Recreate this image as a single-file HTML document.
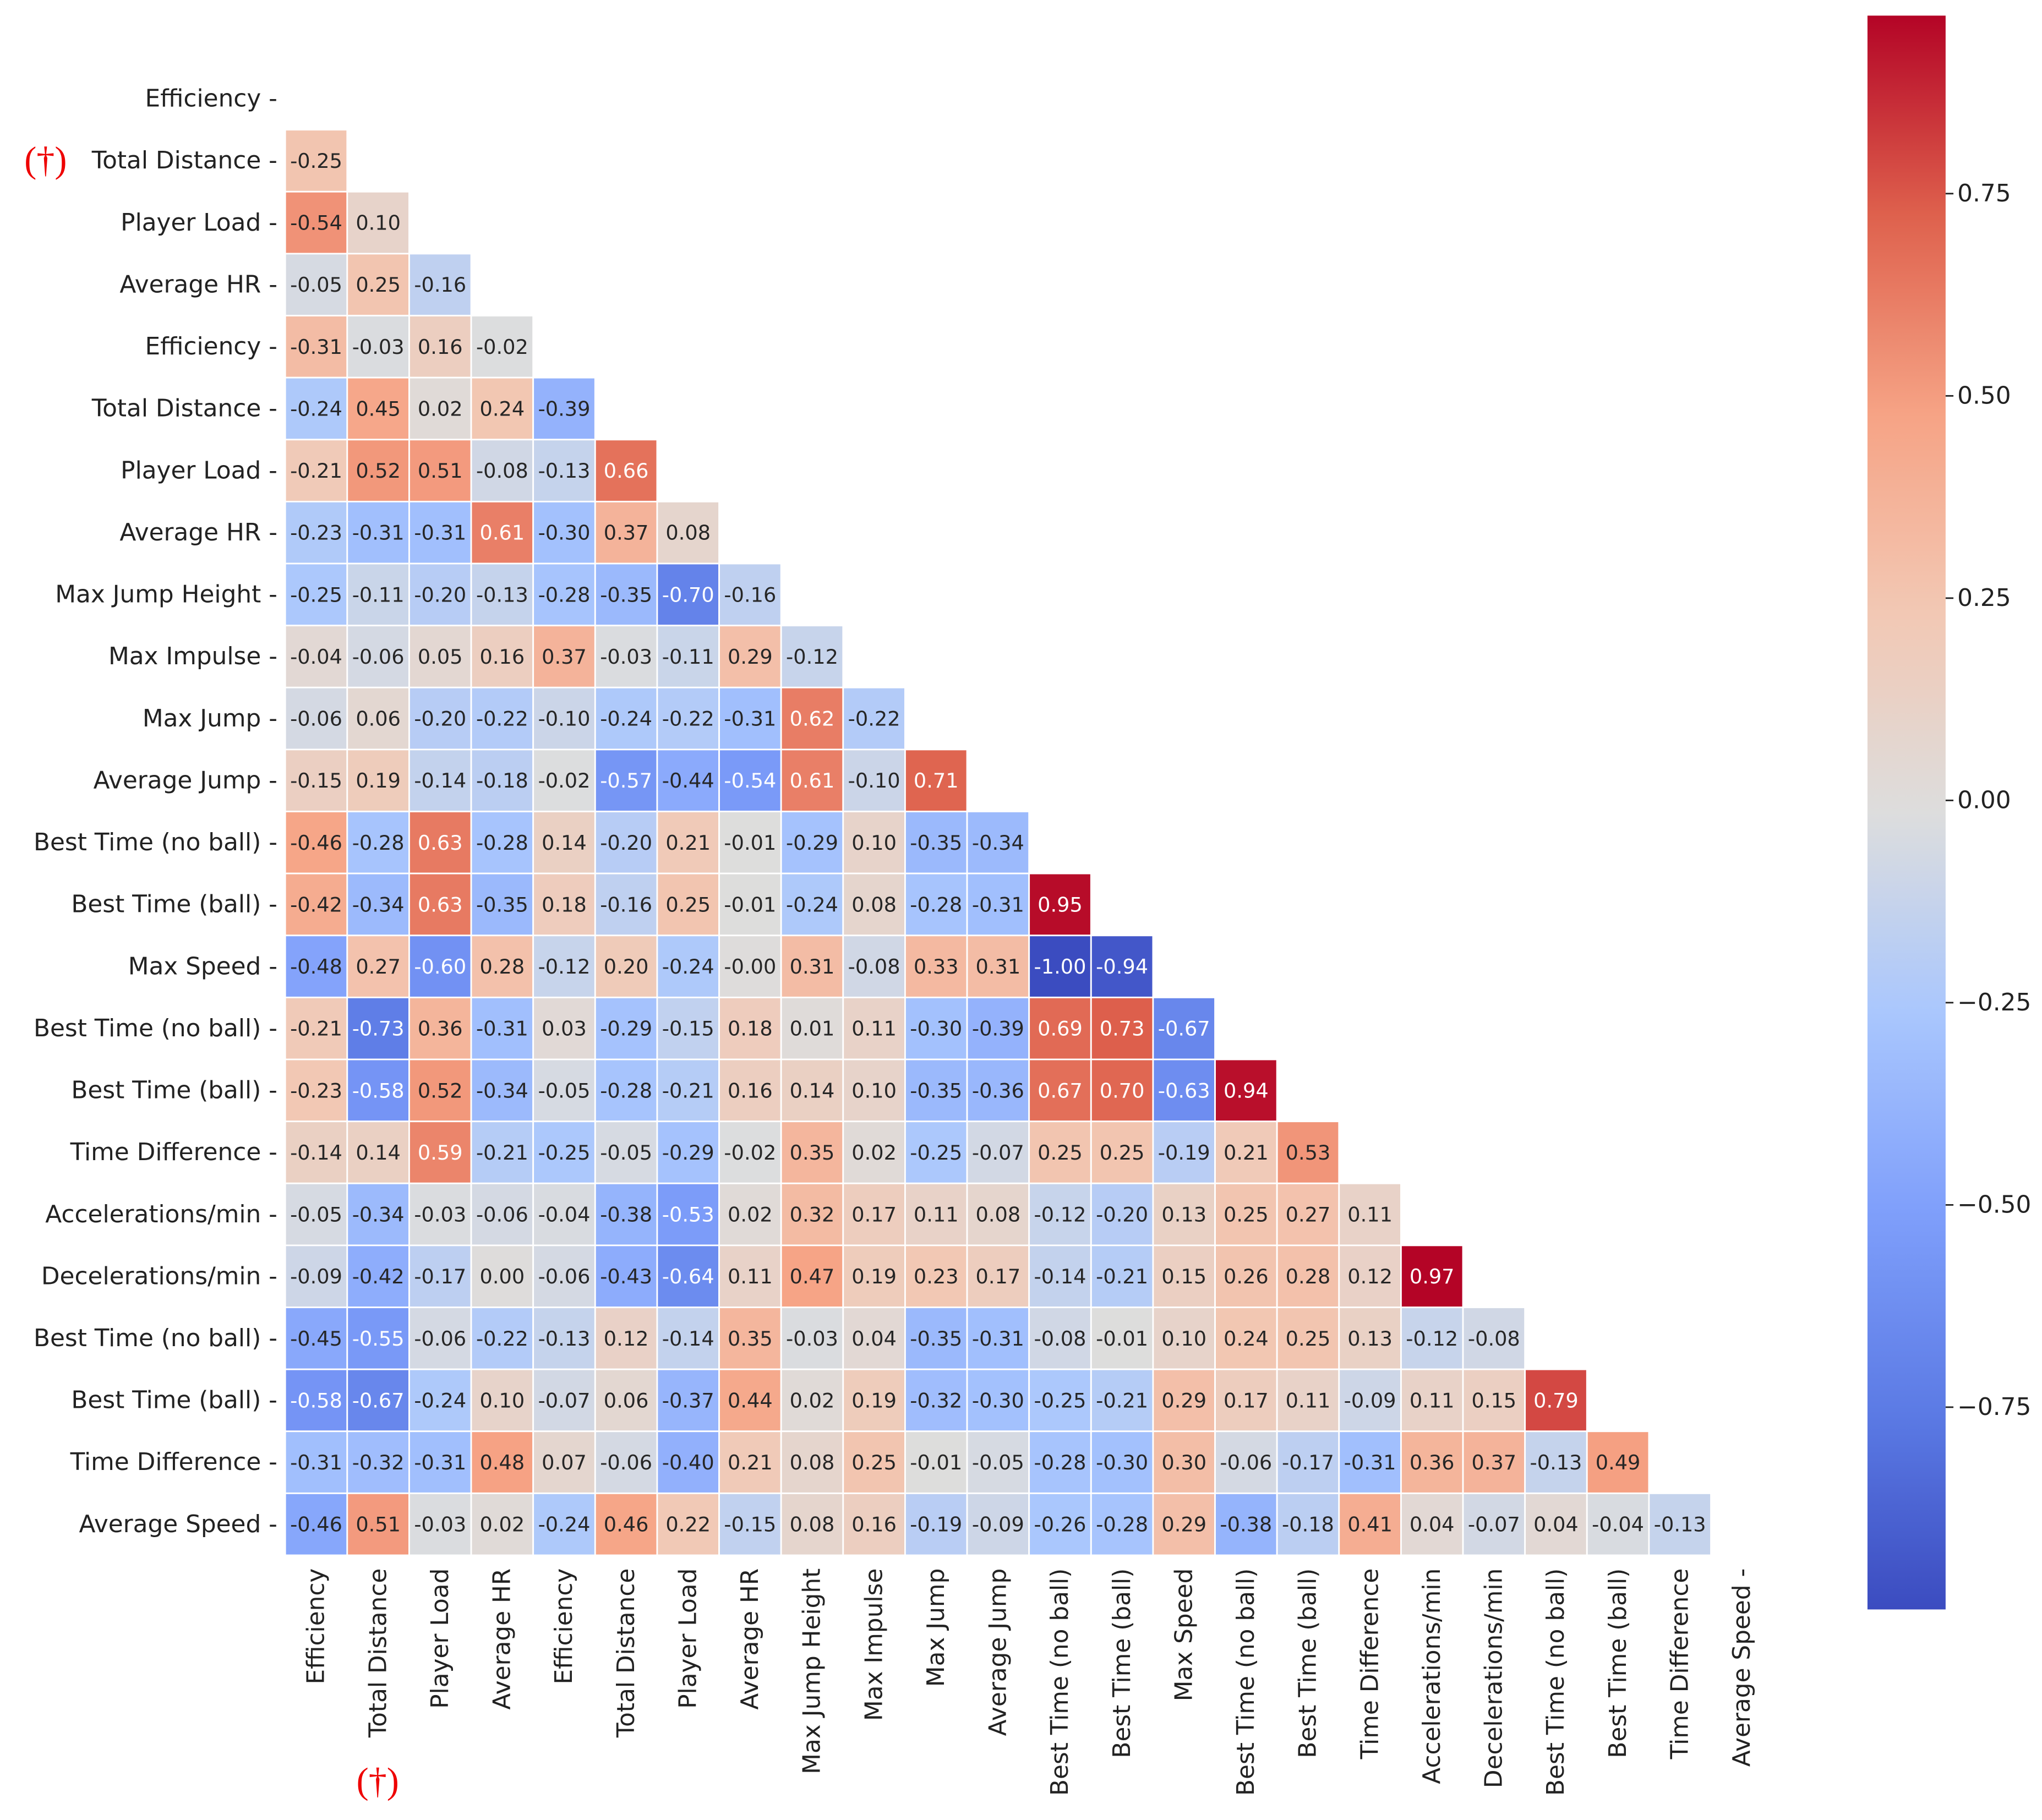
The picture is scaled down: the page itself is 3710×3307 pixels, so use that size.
<!DOCTYPE html>
<html><head><meta charset="utf-8"><style>
html,body{margin:0;padding:0;background:#fff;}
svg{display:block;font-family:"DejaVu Sans","Liberation Sans",sans-serif;}
</style></head><body>
<svg id="chart" width="3710" height="3307" viewBox="0 0 1568 1397.7" xmlns="http://www.w3.org/2000/svg">
<g id="cells"></g>
<g id="rowLabels"></g>
<g id="colLabels"></g>
<g id="cbar"></g>
<text x="35" y="132" font-size="28" fill="#e00" text-anchor="middle" font-family="Liberation Serif, serif">(†)</text>
<text x="290" y="1377" font-size="28" fill="#e00" text-anchor="middle" font-family="Liberation Serif, serif">(†)</text>
</svg>
<script>
const labels = ["Efficiency","Total Distance","Player Load","Average HR","Efficiency","Total Distance","Player Load","Average HR","Max Jump Height","Max Impulse","Max Jump","Average Jump","Best Time (no ball)","Best Time (ball)","Max Speed","Best Time (no ball)","Best Time (ball)","Time Difference","Accelerations/min","Decelerations/min","Best Time (no ball)","Best Time (ball)","Time Difference","Average Speed"];
const matrixRows = [
[],
[0.25],
[0.54,0.10],
[-0.05,0.25,-0.16],
[0.31,-0.03,0.16,-0.02],
[-0.24,0.45,0.02,0.24,-0.39],
[0.21,0.52,0.51,-0.08,-0.13,0.66],
[-0.23,-0.31,-0.31,0.61,-0.30,0.37,0.08],
[-0.25,-0.11,-0.20,-0.13,-0.28,-0.35,-0.70,-0.16],
[0.04,-0.06,0.05,0.16,0.37,-0.03,-0.11,0.29,-0.12],
[-0.06,0.06,-0.20,-0.22,-0.10,-0.24,-0.22,-0.31,0.62,-0.22],
[0.15,0.19,-0.14,-0.18,-0.02,-0.57,-0.44,-0.54,0.61,-0.10,0.71],
[0.46,-0.28,0.63,-0.28,0.14,-0.20,0.21,-0.01,-0.29,0.10,-0.35,-0.34],
[0.42,-0.34,0.63,-0.35,0.18,-0.16,0.25,-0.01,-0.24,0.08,-0.28,-0.31,0.95],
[-0.48,0.27,-0.60,0.28,-0.12,0.20,-0.24,-0.00,0.31,-0.08,0.33,0.31,-1.00,-0.94],
[0.21,-0.73,0.36,-0.31,0.03,-0.29,-0.15,0.18,0.01,0.11,-0.30,-0.39,0.69,0.73,-0.67],
[0.23,-0.58,0.52,-0.34,-0.05,-0.28,-0.21,0.16,0.14,0.10,-0.35,-0.36,0.67,0.70,-0.63,0.94],
[0.14,0.14,0.59,-0.21,-0.25,-0.05,-0.29,-0.02,0.35,0.02,-0.25,-0.07,0.25,0.25,-0.19,0.21,0.53],
[-0.05,-0.34,-0.03,-0.06,-0.04,-0.38,-0.53,0.02,0.32,0.17,0.11,0.08,-0.12,-0.20,0.13,0.25,0.27,0.11],
[-0.09,-0.42,-0.17,0.00,-0.06,-0.43,-0.64,0.11,0.47,0.19,0.23,0.17,-0.14,-0.21,0.15,0.26,0.28,0.12,0.97],
[-0.45,-0.55,-0.06,-0.22,-0.13,0.12,-0.14,0.35,-0.03,0.04,-0.35,-0.31,-0.08,-0.01,0.10,0.24,0.25,0.13,-0.12,-0.08],
[-0.58,-0.67,-0.24,0.10,-0.07,0.06,-0.37,0.44,0.02,0.19,-0.32,-0.30,-0.25,-0.21,0.29,0.17,0.11,-0.09,0.11,0.15,0.79],
[-0.31,-0.32,-0.31,0.48,0.07,-0.06,-0.40,0.21,0.08,0.25,-0.01,-0.05,-0.28,-0.30,0.30,-0.06,-0.17,-0.31,0.36,0.37,-0.13,0.49],
[-0.46,0.51,-0.03,0.02,-0.24,0.46,0.22,-0.15,0.08,0.16,-0.19,-0.09,-0.26,-0.28,0.29,-0.38,-0.18,0.41,0.04,-0.07,0.04,-0.04,-0.13]
];
const cbarTicks = [0.75,0.5,0.25,0,-0.25,-0.5,-0.75];
const vmin = -1.0, vmax = 0.97;

const NS="http://www.w3.org/2000/svg";
const X0=219, Y0=52, CW=47.6, CH=47.6;
const xPos=j=>X0+j*CW, yPos=i=>Y0+i*CH;
const stops=[[0,[59,76,192]],[0.125,[92,123,229]],[0.25,[127,159,251]],[0.375,[170,199,253]],[0.5,[221,221,221]],[0.625,[242,200,180]],[0.75,[246,163,133]],[0.875,[222,97,77]],[1,[180,4,38]]];
function cmap(v){let t=(v-vmin)/(vmax-vmin);t=Math.max(0,Math.min(1,t));
 for(let k=1;k<stops.length;k++){if(t<=stops[k][0]){const a=stops[k-1],b=stops[k];const f=(t-a[0])/(b[0]-a[0]);return a[1].map((c,i)=>Math.round(c+(b[1][i]-c)*f));}}return stops[stops.length-1][1];}
function lum(c){const l=c.map(x=>{x/=255;return x<=0.03928?x/12.92:Math.pow((x+0.055)/1.055,2.4)});return 0.2126*l[0]+0.7152*l[1]+0.0722*l[2];}
function mk(tag,attrs,parent){const e=document.createElementNS(NS,tag);for(const k in attrs)e.setAttribute(k,attrs[k]);parent.appendChild(e);return e;}
const cells=document.getElementById('cells');
matrixRows.forEach((row,i)=>{row.forEach((v,j)=>{
 const c=cmap(v);
 const r=mk('rect',{x:xPos(j),y:yPos(i),width:CW,height:CH,fill:`rgb(${c})`,stroke:'#fff','stroke-width':1.2},cells);
 
 
 const t=mk('text',{x:xPos(j)+CW/2,y:yPos(i)+CH/2+5.5,'font-size':15.5,'text-anchor':'middle',fill:lum(c)<0.36?'#fff':'#262626'},cells);
 t.textContent=(j===0||v<0||Object.is(v,-0))?'-'+Math.abs(v).toFixed(2):v.toFixed(2);
 
 
});});
const rl=document.getElementById('rowLabels'), cl=document.getElementById('colLabels');
labels.forEach((lab,i)=>{
 const t=mk('text',{x:X0-6,y:yPos(i)+CH/2+6,'font-size':18.5,'text-anchor':'end',fill:'#222'},rl);
 t.textContent=lab+' -';
 
 
 const cx=xPos(i)+CW/2+6, cy=Y0+24*CH+10;
 const u=mk('text',{x:cx,y:cy,'font-size':18.5,'text-anchor':'end',fill:'#222',transform:`rotate(-90 ${cx} ${cy})`},cl);
 u.textContent=lab+(i===23?' -':'');
 
 
});
const cb=document.getElementById('cbar');
const CBX=1434,CBW=60,CBT=12,CBB=1236;
const cy=v=>CBT+(vmax-v)/(vmax-vmin)*(CBB-CBT);
const defs=mk('defs',{},cb);
const g=mk('linearGradient',{id:'cg',x1:0,y1:1,x2:0,y2:0},defs);
for(let k=0;k<=40;k++){const v=vmin+(vmax-vmin)*k/40;mk('stop',{offset:k/40,'stop-color':`rgb(${cmap(v)})`},g);}
const bar=mk('rect',{x:CBX,y:CBT,width:CBW,height:CBB-CBT,fill:'url(#cg)'},cb);


cbarTicks.forEach(v=>{
 const y=cy(v);
 const l=mk('line',{x1:CBX+CBW,x2:CBX+CBW+6,y1:y,y2:y,stroke:'#222','stroke-width':1.2},cb);
 
 
 const t=mk('text',{x:CBX+CBW+9,y:y+6,'font-size':18.5,fill:'#222'},cb);
 t.textContent=(v<0?'\u2212':'')+Math.abs(v).toFixed(2);
 
 
});
</script>
</body></html>
